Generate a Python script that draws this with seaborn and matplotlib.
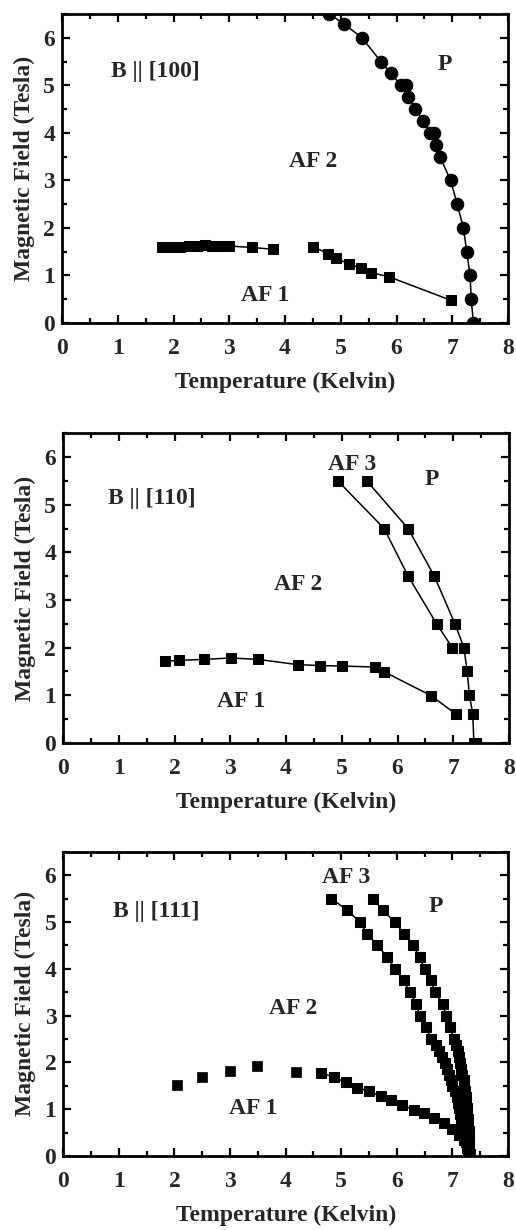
import numpy as np
import pandas as pd
import matplotlib
matplotlib.use("Agg")
import matplotlib.pyplot as plt
from matplotlib.ticker import MultipleLocator
import seaborn as sns

# ---------------- data ----------------
# Panel 1: B || [100]
p1_para_T = [4.79, 5.05, 5.38, 5.72, 5.90, 6.08, 6.17, 6.21, 6.34, 6.48, 6.60, 6.67, 6.70,
             6.78, 6.97, 7.09, 7.20, 7.26, 7.32, 7.34, 7.38]
p1_para_B = [6.5, 6.3, 6.0, 5.5, 5.25, 5.0, 5.0, 4.75, 4.5, 4.25, 4.0, 4.0, 3.75,
             3.5, 3.0, 2.5, 2.0, 1.5, 1.0, 0.5, 0.0]
p1_af1a_T = [1.80, 1.97, 2.12, 2.27, 2.42, 2.56, 2.69, 2.82, 2.99, 3.40, 3.79]
p1_af1a_B = [1.60, 1.60, 1.60, 1.61, 1.63, 1.64, 1.63, 1.62, 1.62, 1.59, 1.55]
p1_af1b_T = [4.50, 4.78, 4.91, 5.14, 5.36, 5.55, 5.87, 6.97]
p1_af1b_B = [1.60, 1.46, 1.36, 1.25, 1.15, 1.06, 0.97, 0.48]

# Panel 2: B || [110]
p2_af1_T = [1.83, 2.08, 2.53, 3.01, 3.50, 4.21, 4.61, 5.00, 5.60, 5.76, 6.60, 7.05]
p2_af1_B = [1.71, 1.73, 1.75, 1.78, 1.75, 1.64, 1.62, 1.61, 1.59, 1.49, 0.99, 0.60]
p2_in_T = [4.93, 5.76, 6.19, 6.70, 6.98]
p2_in_B = [5.5, 4.5, 3.5, 2.5, 2.0]
p2_out_T = [5.45, 6.19, 6.66, 7.03, 7.19, 7.25, 7.29, 7.35, 7.37]
p2_out_B = [5.5, 4.5, 3.5, 2.5, 2.0, 1.5, 1.0, 0.6, 0.0]

# Panel 3: B || [111]
p3_af1a_T = [2.04, 2.49, 2.99, 3.48, 4.19]
p3_af1a_B = [1.52, 1.68, 1.82, 1.93, 1.79]
p3_af1b_T = [4.63, 4.87, 5.09, 5.29, 5.50, 5.71, 5.89, 6.10, 6.31, 6.49, 6.67, 6.85,
             7.00, 7.12, 7.21, 7.27, 7.31]
p3_af1b_B = [1.78, 1.68, 1.57, 1.46, 1.38, 1.28, 1.20, 1.09, 0.98, 0.91, 0.81, 0.70,
             0.57, 0.45, 0.34, 0.20, 0.05]
p3_in_T = [4.82, 5.11, 5.33, 5.47, 5.65, 5.83, 5.96, 6.13, 6.23, 6.35, 6.41, 6.52, 6.62,
           6.70, 6.76, 6.81, 6.86, 6.90, 6.94, 6.97, 7.00, 7.04, 7.08, 7.10, 7.12,
           7.14, 7.16, 7.18, 7.20, 7.22, 7.24, 7.26, 7.28]
p3_in_B = [5.5, 5.25, 5.0, 4.75, 4.5, 4.25, 4.0, 3.75, 3.5, 3.25, 3.0, 2.75, 2.5,
           2.37, 2.24, 2.11, 1.98, 1.86, 1.74, 1.62, 1.50, 1.38, 1.26, 1.14, 1.02,
           0.90, 0.78, 0.66, 0.54, 0.42, 0.30, 0.18, 0.06]
p3_out_T = [5.57, 5.75, 5.96, 6.13, 6.29, 6.41, 6.50, 6.62, 6.68, 6.83, 6.88, 6.96, 7.03,
            7.07, 7.10, 7.12, 7.14, 7.16, 7.18, 7.20, 7.21, 7.22, 7.24, 7.25, 7.26,
            7.27, 7.28, 7.28, 7.29, 7.29, 7.30, 7.30, 7.30]
p3_out_B = [5.5, 5.25, 5.0, 4.75, 4.5, 4.25, 4.0, 3.75, 3.5, 3.25, 3.0, 2.75, 2.5,
            2.37, 2.24, 2.11, 1.98, 1.86, 1.74, 1.62, 1.50, 1.38, 1.26, 1.14, 1.02,
            0.90, 0.78, 0.66, 0.54, 0.42, 0.30, 0.18, 0.06]

x_ticks = [0, 1, 2, 3, 4, 5, 6, 7, 8]
y_ticks = [0, 1, 2, 3, 4, 5, 6]

panel_labels = [
    [("B || [100]", 1.67, 5.29), ("P", 6.87, 5.44), ("AF 2", 4.5, 3.39), ("AF 1", 3.64, 0.58)],
    [("B || [110]", 1.59, 5.13), ("AF 3", 5.18, 5.85), ("P", 6.62, 5.52), ("AF 2", 4.21, 3.33), ("AF 1", 3.19, 0.87)],
    [("B || [111]", 1.68, 5.23), ("AF 3", 5.08, 5.95), ("P", 6.70, 5.34), ("AF 2", 4.13, 3.16), ("AF 1", 3.42, 1.02)],
]

# ---------------- style ----------------
sns.set_theme(style="ticks")
plt.rcParams['font.family'] = ['Liberation Serif', 'DejaVu Serif']
plt.rcParams['font.weight'] = 'bold'
plt.rcParams['axes.labelweight'] = 'bold'

fig = plt.figure(figsize=(5.16, 12.30), dpi=100)
W, H = 516, 1230
boxes = [(62, 508, 14, 323), (63, 509, 433.3, 742.7), (63.3, 508, 851.7, 1156)]
axes = []
for (l, r, t, b) in boxes:
    ax = fig.add_axes([l / W, 1 - b / H, (r - l) / W, (b - t) / H])
    axes.append(ax)

def line(ax, T, B, marker='s', ms=7.8):
    df = pd.DataFrame({"T": T, "B": B})
    sns.lineplot(data=df, x="T", y="B", ax=ax, color="black", marker=marker,
                 markersize=ms, markeredgecolor="black", linewidth=1.1,
                 sort=False, estimator=None, legend=False)

# panel 1
line(axes[0], p1_para_T, p1_para_B, marker='o', ms=9)
line(axes[0], p1_af1a_T, p1_af1a_B)
line(axes[0], p1_af1b_T, p1_af1b_B)
# panel 2
line(axes[1], p2_af1_T, p2_af1_B)
line(axes[1], p2_in_T, p2_in_B)
line(axes[1], p2_out_T, p2_out_B)
# panel 3
sns.scatterplot(x=p3_af1a_T, y=p3_af1a_B, ax=axes[2], color="black", marker="s",
                s=60, edgecolor="black", linewidth=0.5, legend=False)
line(axes[2], p3_af1b_T, p3_af1b_B)
line(axes[2], p3_in_T, p3_in_B)
line(axes[2], p3_out_T, p3_out_B)

for ax, labs in zip(axes, panel_labels):
    ax.set_xlim(0, 8)
    ax.set_ylim(0, 6.5)
    ax.set_xticks(x_ticks)
    ax.set_yticks(y_ticks)
    ax.xaxis.set_minor_locator(MultipleLocator(0.5))
    ax.yaxis.set_minor_locator(MultipleLocator(0.5))
    ax.tick_params(which='both', direction='in', top=True, right=True,
                   labeltop=False, labelright=False, width=1.6, color='black')
    ax.tick_params(which='major', length=5.5)
    ax.tick_params(which='minor', length=3.5)
    ax.tick_params(axis='x', which='major', pad=11, labelsize=17)
    ax.tick_params(axis='y', which='major', pad=5, labelsize=17)
    for lab in ax.get_xticklabels() + ax.get_yticklabels():
        lab.set_fontweight('bold')
    for sp in ax.spines.values():
        sp.set_visible(True)
        sp.set_linewidth(2.0)
        sp.set_color('black')
    ax.set_xlabel("Temperature (Kelvin)", fontsize=17, fontweight='bold', labelpad=9)
    ax.set_ylabel("Magnetic Field (Tesla)", fontsize=17, fontweight='bold', labelpad=6)
    for txt, x, y in labs:
        ax.text(x, y, txt, fontsize=17, fontweight='bold', ha='center', va='center')
    ax.grid(False)

fig.savefig("out.png", dpi=100)
